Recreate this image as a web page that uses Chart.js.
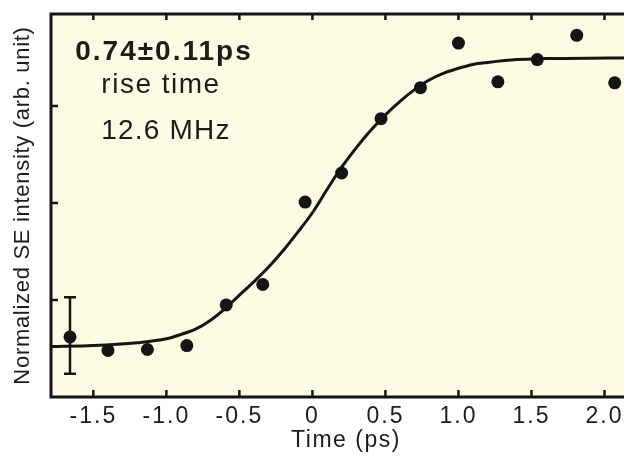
<!DOCTYPE html>
<html>
<head>
<meta charset="utf-8">
<script src="https://cdn.jsdelivr.net/npm/chart.js@4.4.1/dist/chart.umd.min.js"></script>
<style>
  html, body { margin: 0; padding: 0; background: #fff; overflow: hidden; }
  canvas { display: block; }
</style>
</head>
<body>
<canvas id="se-rise" width="650" height="456"></canvas>
<script>
// measured points: time (ps) vs normalized SE intensity (arb. unit)
const timePs = [-1.66, -1.40, -1.13, -0.86, -0.59, -0.34, -0.05, 0.20, 0.47, 0.74, 1.00, 1.27, 1.54, 1.81, 2.07];
const seIntensity = [0.62, 0.48, 0.49, 0.53, 0.95, 1.16, 2.01, 2.31, 2.87, 3.19, 3.65, 3.25, 3.48, 3.73, 3.24];

// error bar shown on the first point
const errTime = [-1.66];
const errLow = [0.24];
const errHigh = [1.03];

// fitted rise curve
const fitTime = [-1.79, -1.50, -1.20, -1.00, -0.90, -0.80, -0.70, -0.60, -0.50, -0.40, -0.30, -0.20, -0.10,
                 0.00, 0.10, 0.20, 0.30, 0.40, 0.50, 0.60, 0.70, 0.80, 0.90, 1.00, 1.10, 1.20, 1.40, 1.60, 2.25];
const fitIntensity = [0.52, 0.53, 0.56, 0.60, 0.645, 0.70, 0.79, 0.91, 1.05, 1.19, 1.34, 1.51, 1.70,
                      1.90, 2.14, 2.37, 2.57, 2.75, 2.91, 3.05, 3.17, 3.27, 3.34, 3.39, 3.43, 3.45, 3.48, 3.49, 3.50];

const xTickValues = [-1.5, -1.0, -0.5, 0, 0.5, 1.0, 1.5, 2.0];
const xTickLabels = ["-1.5", "-1.0", "-0.5", "0", "0.5", "1.0", "1.5", "2.0"];
const yTickValues = [1, 2, 3];
const noteLines = ["0.74\u00b10.11ps", "rise time", "12.6 MHz"];

const FONT = '"Liberation Sans", Arial, Helvetica, sans-serif';
Chart.defaults.font.family = FONT;
Chart.defaults.color = '#1c1c1c';

// the original lettering is widely tracked; wrap a scale's draw step with a letter spacing
function withSpacing(scale, method, spacing) {
    if (scale['_plain_' + method]) return;
    const orig = scale[method];
    scale['_plain_' + method] = orig;
    scale[method] = function() {
        const prev = this.ctx.letterSpacing;
        this.ctx.letterSpacing = spacing;
        orig.apply(this, arguments);
        this.ctx.letterSpacing = prev;
    };
}

const framePlugin = {
    id: 'frame',
    beforeDraw(chart) {
        const {ctx, chartArea: a} = chart;
        withSpacing(chart.scales.x, 'drawLabels', '2px');
        withSpacing(chart.scales.x, 'drawTitle', '1.5px');
        withSpacing(chart.scales.y, 'drawTitle', '0.7px');
        ctx.save();
        ctx.fillStyle = '#fdfbe3';
        ctx.fillRect(a.left, a.top, a.right - a.left, a.bottom - a.top);
        ctx.restore();
    },
    afterDatasetsDraw(chart) {
        const {ctx, chartArea: a} = chart;
        const x = chart.scales.x, y = chart.scales.y;
        ctx.save();
        ctx.strokeStyle = '#141414';
        ctx.lineWidth = 3;
        ctx.strokeRect(a.left, a.top, a.right - a.left, a.bottom - a.top);

        // inward ticks
        ctx.lineWidth = 2.5;
        ctx.beginPath();
        xTickValues.forEach(function(v) {
            const px = x.getPixelForValue(v);
            ctx.moveTo(px, a.bottom); ctx.lineTo(px, a.bottom - 7);
            ctx.moveTo(px, a.top); ctx.lineTo(px, a.top + 6);
        });
        yTickValues.forEach(function(v) {
            const py = y.getPixelForValue(v);
            ctx.moveTo(a.left, py); ctx.lineTo(a.left + 7, py);
        });
        ctx.stroke();

        // error bar
        ctx.beginPath();
        errTime.forEach(function(t, i) {
            const px = x.getPixelForValue(t);
            const top = y.getPixelForValue(errHigh[i]);
            const bot = y.getPixelForValue(errLow[i]);
            ctx.moveTo(px, top); ctx.lineTo(px, bot);
            ctx.moveTo(px - 6, top); ctx.lineTo(px + 6, top);
            ctx.moveTo(px - 6, bot); ctx.lineTo(px + 6, bot);
        });
        ctx.stroke();

        // annotation text
        ctx.fillStyle = '#1c1c1c';
        ctx.textAlign = 'center';
        ctx.textBaseline = 'alphabetic';
        ctx.letterSpacing = '2px';
        ctx.font = 'bold 28px ' + FONT;
        ctx.fillText(noteLines[0], a.left + 113, 60);
        ctx.font = '28px ' + FONT;
        ctx.letterSpacing = '1.5px';
        ctx.fillText(noteLines[1], a.left + 110, 93);
        ctx.letterSpacing = '1.2px';
        ctx.fillText(noteLines[2], a.left + 115, 139);
        ctx.restore();
    }
};

new Chart(document.getElementById('se-rise'), {
    type: 'scatter',
    data: {
        datasets: [
            {
                label: 'fit',
                data: fitTime.map(function(t, i) { return {x: t, y: fitIntensity[i]}; }),
                showLine: true,
                borderColor: '#141414',
                borderWidth: 3,
                pointRadius: 0,
                cubicInterpolationMode: 'monotone'
            },
            {
                label: 'SE',
                data: timePs.map(function(t, i) { return {x: t, y: seIntensity[i]}; }),
                backgroundColor: '#141414',
                borderColor: '#141414',
                pointRadius: 6.5,
                pointBorderWidth: 0
            }
        ]
    },
    options: {
        responsive: false,
        animation: false,
        layout: { padding: { left: 0, right: 9, top: 14, bottom: 0 } },
        plugins: {
            legend: { display: false },
            tooltip: { enabled: false }
        },
        scales: {
            x: {
                type: 'linear',
                min: -1.79,
                max: 2.25,
                grid: { display: false, drawTicks: false },
                border: { display: false },
                afterBuildTicks: function(scale) {
                    scale.ticks = xTickValues.map(function(v) { return {value: v}; });
                },
                afterFit: function(scale) { scale.height = 59; },
                ticks: {
                    padding: 6,
                    font: { size: 23 },
                    color: '#1c1c1c',
                    callback: function(value) { return xTickLabels[xTickValues.indexOf(value)]; }
                },
                title: {
                    display: true,
                    text: 'Time (ps)',
                    font: { size: 23 },
                    padding: { top: 0, bottom: 2 }
                }
            },
            y: {
                min: 0,
                max: 3.95,
                grid: { display: false, drawTicks: false },
                border: { display: false },
                ticks: { display: false },
                afterFit: function(scale) { scale.width = 51; },
                title: {
                    display: true,
                    text: 'Normalized SE intensity (arb. unit)',
                    font: { size: 22 },
                    padding: { top: 10, bottom: 0 }
                }
            }
        }
    },
    plugins: [framePlugin]
});
</script>
</body>
</html>
